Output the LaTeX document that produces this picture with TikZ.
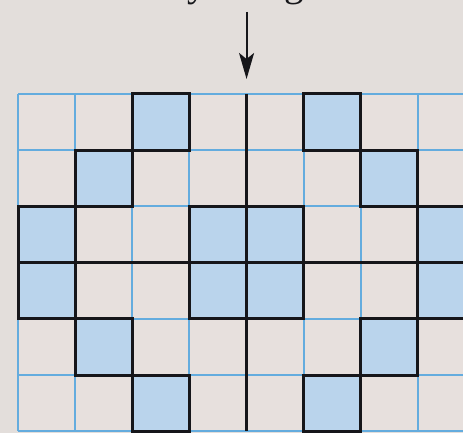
\documentclass[tikz,border=0pt]{standalone}
\usepackage{fontspec}
\setmainfont{Liberation Serif}
\usetikzlibrary{arrows.meta}
\definecolor{bg}{RGB}{227,222,219}
\definecolor{cellbg}{RGB}{231,224,221}
\definecolor{cellblue}{RGB}{186,212,236}
\definecolor{gridblue}{RGB}{100,172,222}
\definecolor{ink}{RGB}{22,22,26}
\tikzset{
  gridline/.style={draw=gridblue, line width=2pt},
  bluecell/.style={fill=cellblue},
  cellborder/.style={draw=ink, line width=3pt, line join=miter},
  axisline/.style={draw=ink, line width=3pt},
  caption/.style={font=\fontsize{39}{39}\selectfont, text=ink, inner sep=0pt, anchor=base west},
  arrowline/.style={draw=ink, line width=2pt, -{Stealth[length=26pt,width=15pt,inset=6pt]}}
}
\def\cw{57.14}
\def\chh{56.2}
\begin{document}
\begin{tikzpicture}[x=1pt,y=-1pt]
  \useasboundingbox (0,0) rectangle (463,433);
  \fill[bg] (0,0) rectangle (463,433);
  \begin{scope}
    \clip (0,0) rectangle (463,433);
    % caption (only its descenders fall inside the picture)
    \node[caption] (title) at (73,-3.5) {Halfway along the row};
    % grid background
    \fill[cellbg] (18,94) rectangle (475.1,431.2);
    % blue cells
    \foreach \r/\c in {0/2,0/5,1/1,1/6,2/0,2/3,2/4,2/7,3/0,3/3,3/4,3/7,4/1,4/6,5/2,5/5}
      \fill[bluecell] ({18+\c*\cw},{94+\r*\chh}) rectangle ++(\cw,\chh);
    % blue grid lines
    \foreach \i in {0,...,8}
      \draw[gridline] ({18+\i*\cw},94) -- ({18+\i*\cw},431.2);
    \foreach \j in {0,...,6}
      \draw[gridline] (18,{94+\j*\chh}) -- (475.1,{94+\j*\chh});
    % black borders of blue cells
    \foreach \r/\c in {0/2,0/5,1/1,1/6,2/0,2/3,2/4,2/7,3/0,3/3,3/4,3/7,4/1,4/6,5/2,5/5}
      \draw[cellborder] ({18+\c*\cw},{94+\r*\chh}) rectangle ++(\cw,\chh);
    % symmetry axes
    \draw[axisline] ({18+4*\cw},94) -- ({18+4*\cw},431.2);
    \draw[axisline] (18,{94+3*\chh}) -- (475.1,{94+3*\chh});
    % arrow
    \coordinate (arrowtop) at ({18+4*\cw},12);
    \coordinate (arrowtip) at ({18+4*\cw},79);
    \draw[arrowline] (arrowtop) -- (arrowtip);
  \end{scope}
\end{tikzpicture}
\end{document}
